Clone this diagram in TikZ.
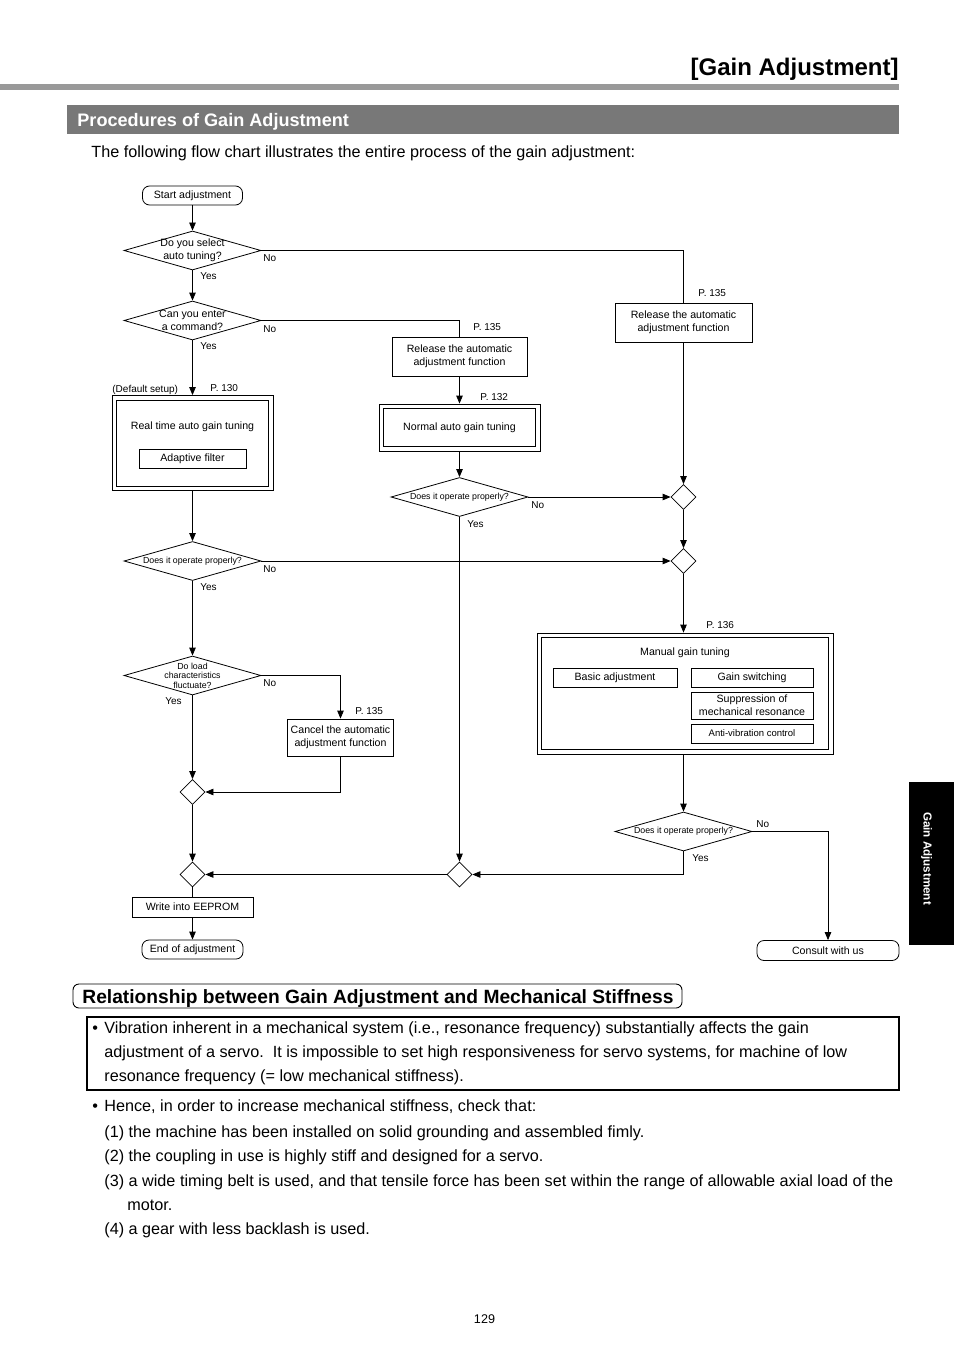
\documentclass[tikz,border=0pt]{standalone}
\usepackage{fontspec}
\setmainfont{Liberation Sans}
\usetikzlibrary{shapes.geometric,arrows.meta}
\newcommand\fsz[2]{\fontsize{#1}{#2}\selectfont}
\begin{document}
\begin{tikzpicture}[x=1pt,y=-1pt, line width=0.8pt,
  >={Triangle[length=8pt,width=6.5pt]},
  fl/.style={font=\fsz{10.6}{13}, align=center, inner sep=0pt},
  term/.style={fl, draw, rounded corners=7pt, minimum height=19pt},
  box/.style={fl, draw},
  dbl/.style={fl, draw},
  dia/.style={draw, diamond, minimum width=137pt, minimum height=39pt, inner sep=0pt},
  sdia/.style={draw, diamond, minimum width=25pt, minimum height=25pt, inner sep=0pt},
  dtext/.style={font=\fsz{10.6}{13}, align=center, inner sep=0pt},
  stext/.style={font=\fsz{8.8}{9.6}, align=center, inner sep=0pt},
  lab/.style={font=\fsz{10}{12}, anchor=base west, inner sep=0pt},
  body/.style={font=\fsz{16.2}{19}, anchor=base west, inner sep=0pt},
]
\useasboundingbox (0,0) rectangle (954,1351);
\fill[white] (0,0) rectangle (954,1351);

% ---- page header ----
\node[anchor=base east, inner sep=0pt, font=\bfseries\fsz{24}{28}] (title) at (899,76) {[Gain Adjustment]};
\fill[black!40] (0,84.5) rectangle (899,90.5);
\fill[black!53] (67,105) rectangle (899,134);
\node[anchor=base west, inner sep=0pt, text=white, font=\bfseries\fsz{18.1}{21}] (sec1) at (77,126.5) {Procedures of Gain Adjustment};
\node[body] (intro) at (91,158) {The following flow chart illustrates the entire process of the gain adjustment:};

% ---- flowchart nodes ----
\node[term, minimum width=100pt] (start) at (192.5,195.5) {Start adjustment};
\node[dia] (d1) at (192.5,250.5) {};
\node[dtext] (d1t) at (d1) {Do you select\\auto tuning?};
\node[dia] (d2) at (192.5,320.5) {};
\node[dtext] (d2t) at (d2) {Can you enter\\a command?};

\node[box, minimum width=137pt, minimum height=39pt] (rel2) at (683.5,322.5) {Release the automatic\\adjustment function};
\node[box, minimum width=135pt, minimum height=39pt] (rel1) at (459.5,356.5) {Release the automatic\\adjustment function};
\node[dbl, minimum width=161pt, minimum height=47pt] (normal) at (459.5,427.5) {Normal auto gain tuning};
\draw ([shift={(5,5)}]normal.north west) rectangle ([shift={(-5,-5)}]normal.south east);
\node[dia] (nd) at (459.5,497) {};
\node[stext] (ndt) at (nd) {Does it operate properly?};

\node[dbl, minimum width=161pt, minimum height=95pt] (rt) at (192.5,443) {};
\draw ([shift={(5,5)}]rt.north west) rectangle ([shift={(-5,-5)}]rt.south east);
\node[fl] (rtt) at (192.5,427) {Real time auto gain tuning};
\node[box, minimum width=107pt, minimum height=19pt] (adapt) at (192.5,458.5) {Adaptive filter};

\node[dia] (d3) at (192.5,561) {};
\node[stext] (d3t) at (d3) {Does it operate properly?};
\node[dia] (d5) at (192.5,675.5) {};
\node[stext] (d5t) at (d5) {Do load\\characteristics\\fluctuate?};
\node[box, minimum width=106pt, minimum height=37pt] (cancel) at (340.5,737.5) {Cancel the automatic\\adjustment function};

\node[sdia] (sd1) at (683.5,497) {};
\node[sdia] (sd2) at (683.5,561) {};
\node[sdia] (sd3) at (459.5,874.5) {};
\node[sdia] (sd4) at (192.5,792) {};
\node[sdia] (sd5) at (192.5,874.5) {};

\node[dbl, minimum width=296pt, minimum height=121pt] (manual) at (685,693.5) {};
\draw ([shift={(5,5)}]manual.north west) rectangle ([shift={(-5,-5)}]manual.south east);
\node[fl] (mant) at (685,653) {Manual gain tuning};
\node[box, minimum width=124pt, minimum height=19pt] (basic) at (615,677.5) {Basic adjustment};
\node[box, minimum width=122pt, minimum height=19pt] (gsw) at (752,677.5) {Gain switching};
\node[box, minimum width=122pt, minimum height=27pt] (supp) at (752,705.5) {Suppression of\\mechanical resonance};
\node[box, minimum width=122pt, minimum height=19pt, font=\fsz{9.5}{11}] (anti) at (752,733.5) {Anti-vibration control};

\node[dia] (d4) at (683.5,831.5) {};
\node[stext] (d4t) at (d4) {Does it operate properly?};

\node[box, minimum width=121pt, minimum height=20pt] (write) at (192.5,907) {Write into EEPROM};
\node[term, minimum width=101pt] (end) at (192.5,949.5) {End of adjustment};
\node[term, minimum width=142pt, minimum height=20pt] (consult) at (828,950.5) {Consult with us};

% ---- connectors ----
\draw[->] (start) -- (d1);
\draw[->] (d1) -- (d2);
\draw (d1.east) -| (rel2.north);
\draw (d2.east) -| (rel1.north);
\draw[->] (d2) -- (rt);
\draw[->] (rel1) -- (normal);
\draw[->] (normal) -- (nd);
\draw[->] (nd.east) -- (sd1.west);
\draw[->] (rel2) -- (sd1);
\draw[->] (sd1) -- (sd2);
\draw[->] (rt) -- (d3);
\draw[->] (d3.east) -- (sd2.west);
\draw[->] (sd2.south) -- (sd2.south |- manual.north);
\draw[->] (manual.south -| d4.north) -- (d4.north);
\draw[->] (d4.east) -| (consult.north);
\draw[->] (d4.south) |- (sd3.east);
\draw[->] (nd.south) -- (sd3.north);
\draw[->] (sd3.west) -- (sd5.east);
\draw[->] (d3) -- (d5);
\draw[->] (d5.east) -| (cancel.north);
\draw[->] (cancel.south) |- (sd4.east);
\draw[->] (d5) -- (sd4);
\draw[->] (sd4) -- (sd5);
\draw (sd5) -- (write);
\draw[->] (write) -- (end);

% ---- labels ----
\node[lab] (l1n) at (263,261) {No};
\node[lab] (l1y) at (200,279) {Yes};
\node[lab] (l2n) at (263,332) {No};
\node[lab] (l2y) at (200,349) {Yes};
\node[lab] (l3n) at (263,572) {No};
\node[lab] (l3y) at (200,590) {Yes};
\node[lab] (l5n) at (263,686) {No};
\node[lab] (l5y) at (165,704) {Yes};
\node[lab] (lnn) at (531,508) {No};
\node[lab] (lny) at (467,527) {Yes};
\node[lab] (l4n) at (756,827) {No};
\node[lab] (l4y) at (692,861) {Yes};
\node[lab] (p1) at (698,296) {P. 135};
\node[lab] (p2) at (473,330) {P. 135};
\node[lab] (p3) at (480,400) {P. 132};
\node[lab] (p4) at (210,391) {P. 130};
\node[lab] (pdef) at (112,392) {(Default setup)};
\node[lab] (p5) at (706,628) {P. 136};
\node[lab] (p6) at (355,714) {P. 135};

% ---- side tab ----
\fill[black] (909,782) rectangle (954,945);
\node[rotate=-90, text=white, inner sep=0pt, font=\bfseries\fsz{11.6}{13}] (tab) at (926.5,858.5) {Gain Adjustment};

% ---- second section ----
\draw[line width=0.9pt, rounded corners=6pt] (73,984) rectangle (682,1008);
\node[anchor=base west, inner sep=0pt, font=\bfseries\fsz{19.2}{22}] (sec2) at (82,1003) {Relationship between Gain Adjustment and Mechanical Stiffness};
\draw[line width=1.5pt] (87,1017) rectangle (899,1090);
\node[body] (b1) at (92,1033) {•};
\node[body] (t1) at (104,1033) {Vibration inherent in a mechanical system (i.e., resonance frequency) substantially affects the gain};
\node[body] (t2) at (104,1057) {adjustment of a servo.\ \ It is impossible to set high responsiveness for servo systems, for machine of low};
\node[body] (t3) at (104,1081) {resonance frequency (= low mechanical stiffness).};
\node[body] (b2) at (92,1111) {•};
\node[body] (h0) at (104,1111) {Hence, in order to increase mechanical stiffness, check that:};
\node[body] (h1) at (104,1137) {(1) the machine has been installed on solid grounding and assembled fimly.};
\node[body] (h2) at (104,1161) {(2) the coupling in use is highly stiff and designed for a servo.};
\node[body] (h3) at (104,1186) {(3) a wide timing belt is used, and that tensile force has been set within the range of allowable axial load of the};
\node[body] (h3b) at (127,1210) {motor.};
\node[body] (h4) at (104,1234) {(4) a gear with less backlash is used.};

\node[anchor=base, inner sep=0pt, font=\fsz{12.6}{15}] (pg) at (484.5,1323.5) {129};
\end{tikzpicture}
\end{document}
